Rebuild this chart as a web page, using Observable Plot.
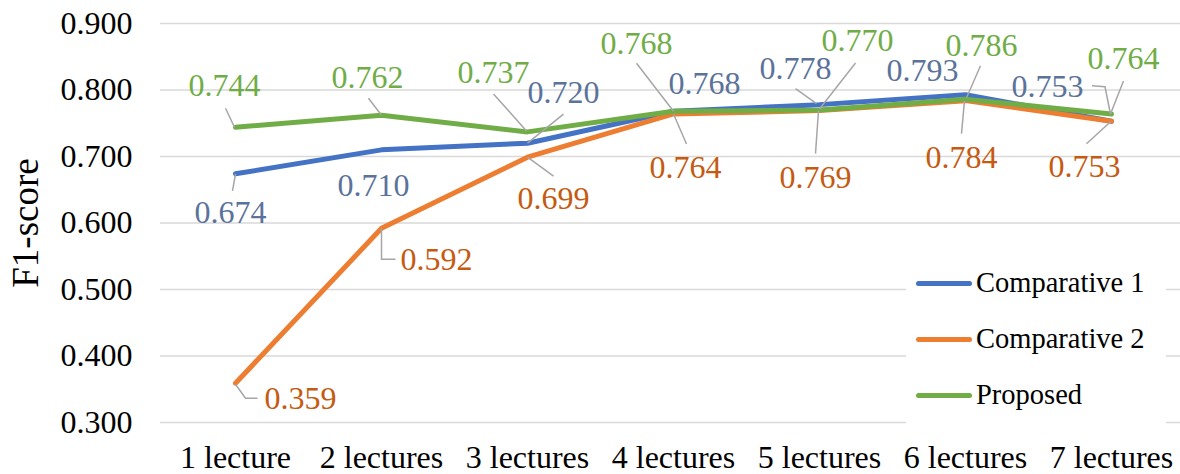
<!DOCTYPE html>
<html><head><meta charset="utf-8">
<script src="https://cdn.jsdelivr.net/npm/d3@7"></script>
<script src="https://cdn.jsdelivr.net/npm/@observablehq/plot@0.6"></script>
<style>
body{margin:0;background:#fff;}
#wrap{position:relative;width:1180px;height:474px;font-family:"Liberation Serif","Times New Roman",serif;}
#wrap svg{display:block;}
#wrap svg text{font-family:"Liberation Serif","Times New Roman",serif;}
.legend{position:absolute;left:906px;top:262px;width:260px;height:162px;background:#fff;}
.item{position:absolute;left:0;height:30px;display:flex;align-items:center;font-size:28.5px;color:#000;white-space:nowrap;}
.swatch{width:56px;height:5px;border-radius:3px;margin-left:10px;margin-right:4px;}
</style></head>
<body><div id="wrap"></div>
<script>
const categories = ["1 lecture","2 lectures","3 lectures","4 lectures","5 lectures","6 lectures","7 lectures"];
const comparative1 = [0.674, 0.710, 0.720, 0.768, 0.778, 0.793, 0.753];
const comparative2 = [0.359, 0.592, 0.699, 0.764, 0.769, 0.784, 0.753];
const proposed     = [0.744, 0.762, 0.737, 0.768, 0.770, 0.786, 0.764];
const seriesNames = ["Comparative 1","Comparative 2","Proposed"];
const yTicks = [0.3, 0.4, 0.5, 0.6, 0.7, 0.8, 0.9];

const lineColors  = ["#4472c4","#ed7d31","#70ad47"];
const labelColors = ["#5b739a","#c55a11","#70ad47"];
const font = "Liberation Serif";

// data-label placement (pixel offsets from each point)
const labelOffsets = [
  [[-5,39],[-8,36],[36,-50],[31,-28],[-24,-36],[-43,-24],[-64,-35]],
  [[65,15],[55,31],[26,42],[12,54],[-4,67],[-4,57],[-27,45]],
  [[-11,-41],[-14,-38],[-34,-59],[-37,-68],[38,-69],[16,-54],[12,-55]]
];
// leader lines (pixel polylines relative to each point)
const leaderPaths = [
  [[[0,0],[-3,17]], null, [[0,0],[36,-29]], null, [[-3,-1],[-24,-16]], null, [[-1,-7],[-6.5,-34.5],[-19.5,-35.5]]],
  [[[0,1],[10,15],[22,15]], [[0,0],[0,31],[14,31]], [[0,0],[26,19]], [[0,0],[13,30]], [[-1,0],[-4,43]], [[-1,0],[-4,33]], [[-1,0.5],[-25,22.5]]],
  [[[-1,0],[-10,-19]], [[0,0],[-13,-17]], [[-1,-1],[-34,-38]], [[0,0],[-37,-48]], [[0,-1],[36,-47]], [[1,-1.6],[15,-33.6]], [[-1,0],[12,-33]]]
];

const seriesValues = [comparative1, comparative2, proposed];
const rows = seriesValues.map((vals, si) => vals.map((v, i) => ({series: seriesNames[si], si, i, cat: categories[i], value: v})));

const lineMarks = rows.map((r, si) =>
  Plot.line(r, {x: "cat", y: "value", stroke: lineColors[si], strokeWidth: 5, strokeLinejoin: "round", strokeLinecap: "round"}));

const leaderMarks = [];
const labelMarks = [];
rows.forEach((r, si) => r.forEach((d) => {
  const pts = leaderPaths[si][d.i];
  if (pts) {
    leaderMarks.push(Plot.vector([d], {
      x: "cat", y: "value", length: 1, rotate: 0, anchor: "start",
      stroke: "#a6a6a6", strokeWidth: 1.5, strokeLinecap: "butt", strokeLinejoin: "miter",
      shape: {draw(ctx) { ctx.moveTo(pts[0][0], pts[0][1]); for (let k = 1; k < pts.length; k++) ctx.lineTo(pts[k][0], pts[k][1]); }}
    }));
  }
  const [dx, dy] = labelOffsets[si][d.i];
  labelMarks.push(Plot.text([d], {
    x: "cat", y: "value", text: (e) => e.value.toFixed(3), dx, dy,
    fill: labelColors[si], fontSize: 32, fontFamily: font, textAnchor: "middle", lineAnchor: "middle"
  }));
}));

const chart = Plot.plot({
  width: 1180, height: 474,
  marginLeft: 160, marginRight: 0, marginTop: 23, marginBottom: 52,
  style: {color: "#000", background: "#fff", overflow: "visible"},
  x: {type: "point", domain: categories, range: [160, 1185]},
  y: {domain: [0.3, 0.9]},
  marks: [
    Plot.gridY(yTicks, {stroke: "#d9d9d9", strokeOpacity: 1, strokeWidth: 1.3}),
    Plot.axisY(yTicks, {tickFormat: d3.format(".3f"), tickSize: 0, tickPadding: 28, fontSize: 32, fontFamily: font, label: null}),
    Plot.axisX({tickSize: 0, tickPadding: 23, fontSize: 32, fontFamily: font, label: null}),
    Plot.text(["F1-score"], {frameAnchor: "left", dx: -134, rotate: -90, textAnchor: "middle", lineAnchor: "middle", fontSize: 37, fontFamily: font, fill: "#000"}),
    ...lineMarks,
    ...leaderMarks,
    ...labelMarks
  ]
});

const wrap = document.getElementById("wrap");
wrap.appendChild(chart);

const legend = document.createElement("div");
legend.className = "legend";
seriesNames.forEach((name, si) => {
  const item = document.createElement("div");
  item.className = "item";
  item.style.top = (6 + si * 56) + "px";
  const sw = document.createElement("span");
  sw.className = "swatch";
  sw.style.background = lineColors[si];
  const tx = document.createElement("span");
  tx.textContent = name;
  item.appendChild(sw); item.appendChild(tx);
  legend.appendChild(item);
});
wrap.appendChild(legend);
</script>
</body></html>
